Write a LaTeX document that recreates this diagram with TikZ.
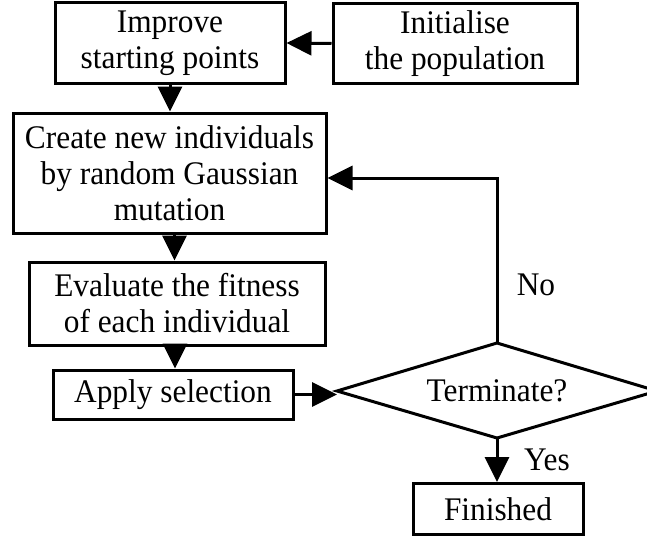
\documentclass[tikz,border=0pt]{standalone}
\usepackage{fontspec}
\setmainfont{Liberation Serif}[FakeStretch=0.95]
\usetikzlibrary{arrows.meta}
\begin{document}
\begin{tikzpicture}[x=1pt,y=-1pt,
  box/.style={draw, line width=3pt, inner sep=0pt, align=center,
    font=\fontsize{33}{36}\selectfont},
  lbl/.style={inner sep=0pt, font=\fontsize{33}{36}\selectfont},
  conn/.style={line width=3pt},
  arr/.style={line width=3pt, -{Triangle[length=25pt,width=24pt]}},
]
\useasboundingbox (0,0) rectangle (647,535);
\node[box, minimum width=230pt, minimum height=80pt] (improve) at (170,43) {Improve\\starting points};
\node[box, minimum width=244pt, minimum height=79pt] (init) at (455,43.5) {Initialise\\the population};
\node[box, minimum width=313pt, minimum height=120pt] (create) at (169.5,173) {Create new individuals\\by random Gaussian\\mutation};
\node[box, minimum width=296pt, minimum height=83pt] (eval) at (177,303.5) {Evaluate the fitness\\of each individual};
\node[box, minimum width=240pt, minimum height=49pt] (apply) at (173,394.5) {Apply selection};
\coordinate (dl) at (337,391);
\coordinate (dt) at (497,343);
\coordinate (dr) at (657,391);
\coordinate (db) at (497,438);
\draw[conn, line join=miter] (dl) -- (dt) -- (dr) -- (db) -- cycle;
\node[lbl] (term) at (497,391) {Terminate?};
\node[box, minimum width=170pt, minimum height=51pt] (fin) at (498,509) {Finished};
\node[lbl] (no) at (536,285) {No};
\node[lbl] (yes) at (547,460) {Yes};
\draw[arr] (init.west) -- (improve.east);
\draw[arr] (improve.south) -- (improve.south |- create.north);
\draw[arr] ([xshift=5pt]create.south) -- ([xshift=5pt]create.south |- eval.north);
\draw[arr] ([xshift=-2pt]eval.south) -- ([xshift=-2pt]eval.south |- apply.north);
\draw[arr] (apply.east) -- (dl |- apply.east);
\draw[arr] (dt) |- ([yshift=-5pt]create.east);
\draw[arr] (db) -- (db |- fin.north);
\end{tikzpicture}
\end{document}
